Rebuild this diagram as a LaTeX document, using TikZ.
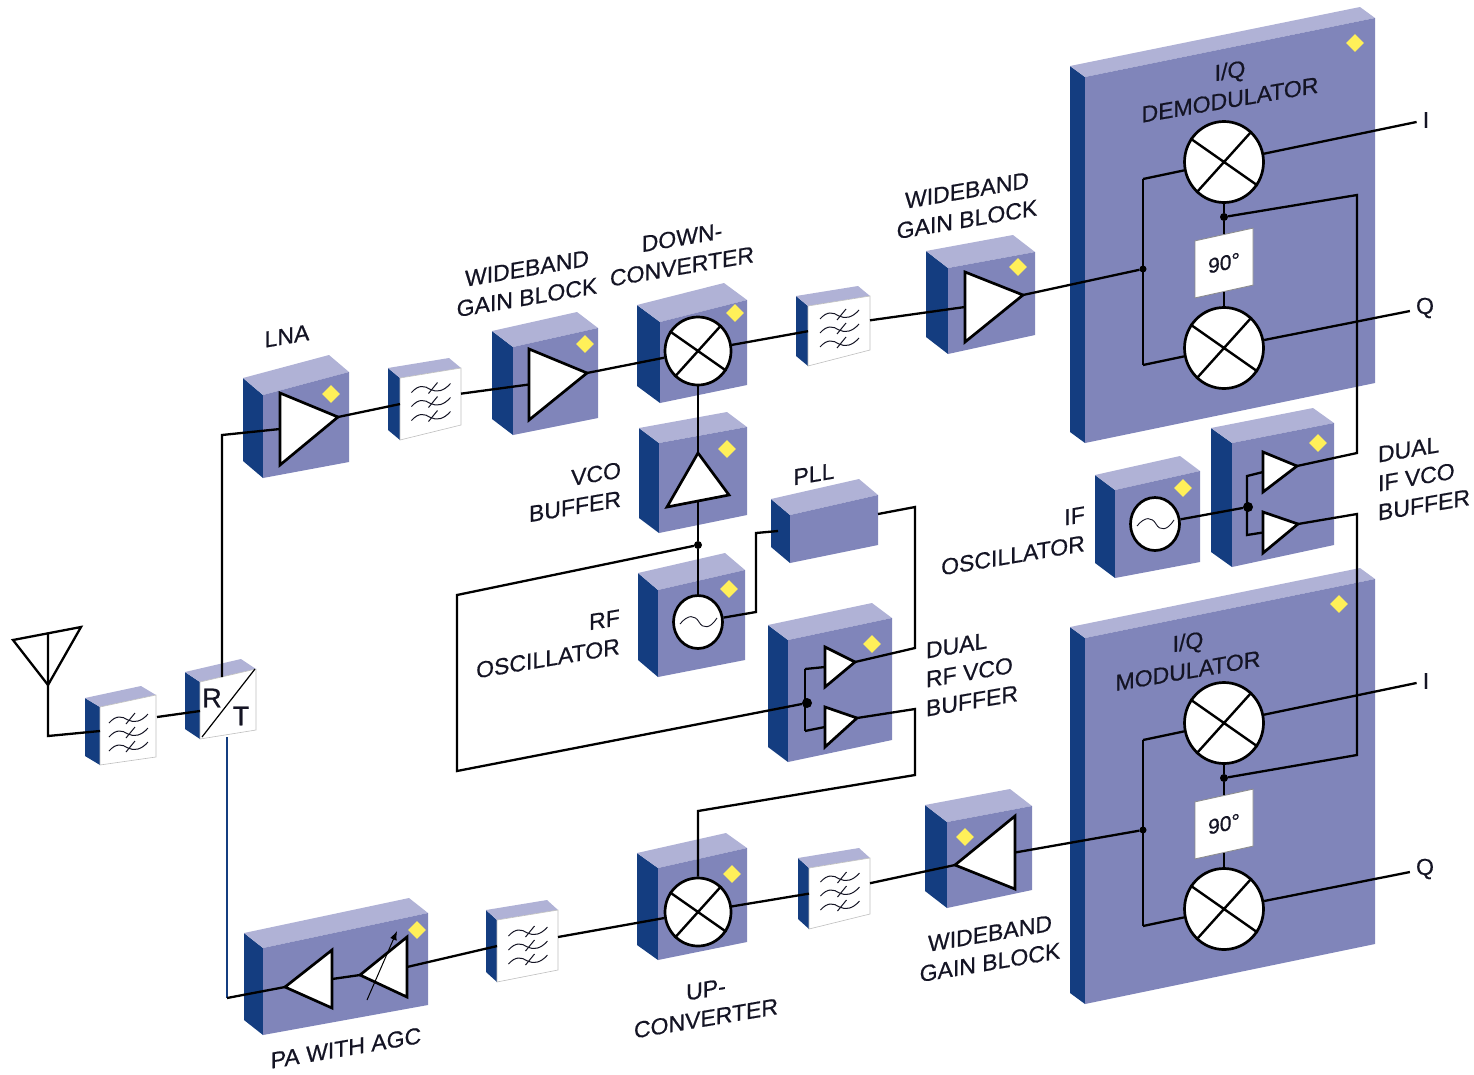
\documentclass[tikz,border=0pt]{standalone}
\usepackage{fontspec}
\setmainfont{Liberation Sans}
\newfontfamily\lblfont[FakeBold=0.6]{Liberation Sans}
\usepackage{tikz}
\usetikzlibrary{shapes, arrows.meta, calc}
\definecolor{faceblue}{rgb}{0.50,0.52,0.73}
\definecolor{topblue}{rgb}{0.69,0.70,0.84}
\definecolor{sideblue}{rgb}{0.08,0.24,0.50}
\definecolor{chipyellow}{rgb}{1.0,0.94,0.35}
\definecolor{inkdark}{rgb}{0.08,0.08,0.14}
\tikzstyle{blockface}=[%
      fill=faceblue
]
\tikzstyle{filterface}=[%
      fill=white, draw=black!25, line width=0.6pt
]
\tikzstyle{wire}=[%
      draw=black, line width=2.3pt, line join=miter
]
\tikzstyle{element}=[%
      draw=black, fill=white, line width=2.7pt, line join=miter
]
\tikzstyle{roundel}=[%
      ellipse, draw=black, fill=white, line width=2.7pt, inner sep=0pt
]
\tikzstyle{jdot}=[%
      circle, fill=black, inner sep=0pt, minimum size=8pt
]
\tikzstyle{chip}=[%
      diamond, fill=chipyellow, inner sep=0pt, minimum width=18pt, minimum height=18pt
]
\tikzstyle{lbl}=[%
      font=\lblfont\fontsize{23}{29}\selectfont, text=inkdark, align=center, inner sep=0pt, yslant=0.17
]
\tikzstyle{port}=[%
      font=\lblfont\fontsize{23}{29}\selectfont, text=inkdark, inner sep=6pt
]
\tikzstyle{phase}=[%
      rectangle, fill=white, draw=black!45, line width=0.8pt, yslant=0.22,
      minimum width=58pt, minimum height=57pt, inner sep=0pt,
      font=\lblfont\fontsize{21}{25}\selectfont, text=inkdark
]
\newcommand{\isobox}[7][blockface]{%
  \fill[sideblue] (#3) -- ++(#7) -- ($(#6)+(#7)$) -- (#6) -- cycle;
  \fill[topblue] (#3) -- ++(#7) -- ($(#4)+(#7)$) -- (#4) -- cycle;
  \path[#1] (#3) -- (#4) -- (#5) -- (#6) -- cycle;
  \coordinate (#2) at ($(#3)!0.5!(#5)$);
  \coordinate (#2in) at ($(#3)!0.42!(#6)$);
  \coordinate (#2out) at ($(#4)!0.45!(#5)$);
}
\newcommand{\waves}[1]{%
  \begin{scope}[shift={(#1)}]
    \foreach \dy in {-13,1,15} {
      \draw[inkdark, line width=1pt] (-19,\dy+4) .. controls (-12,\dy-4) and (-6,\dy-3) .. (0,\dy+1)
        .. controls (6,\dy+4) and (13,\dy+3) .. (20,\dy-5);
      \draw[inkdark, line width=1pt] (-2,\dy+5) -- (7,\dy-6);
    }
  \end{scope}
}
\newcommand{\amptri}[4]{%
  \draw[element] (#2) -- (#3) -- (#4) -- cycle;
  \coordinate (#1in) at ($(#2)!0.5!(#3)$);
  \coordinate (#1out) at (#4);
}
\newcommand{\mixer}[3]{%
  \node[roundel, minimum width=#3pt, minimum height=#3pt+2pt] (#1) at (#2) {};
  \draw[black, line width=2.4pt] (#1.145) -- (#1.325) (#1.48) -- (#1.228);
}
\newcommand{\oscil}[2]{%
  \node[roundel, minimum width=49pt, minimum height=53pt] (#1) at (#2) {};
  \draw[inkdark, line width=0.9pt] ($(#1)+(-18,2)$) .. controls ($(#1)+(-10,-8)$) and ($(#1)+(-3,-7)$) .. ($(#1)+(1,0)$)
    .. controls ($(#1)+(5,7)$) and ($(#1)+(12,7)$) .. ($(#1)+(19,-4)$);
}
\begin{document}
\begin{tikzpicture}[x=1pt,y=-1pt]
  \useasboundingbox (0,0) rectangle (1474,1074);

  \isobox[filterface]{af}{100,707}{156,695}{156,757}{100,765}{-15,-9}
  \isobox[filterface]{rt}{200,682}{256,669}{256,730}{200,739}{-15,-10}
  \isobox{lna}{263,395}{349,372}{349,462}{263,478}{-20,-17}
  \isobox[filterface]{fa}{400,378}{461,368}{461,425}{400,440}{-12,-10}
  \isobox{gba}{513,347}{598,328}{598,418}{513,435}{-21,-16}
  \isobox{dcv}{660,322}{747,300}{747,385}{660,403}{-23,-17}
  \isobox[filterface]{fb}{808,306}{870,296}{870,350}{808,366}{-12,-10}
  \isobox{gbb}{948,268}{1035,252}{1035,335}{948,354}{-22,-17}
  \isobox{dmd}{1085,77}{1375,18}{1375,383}{1085,443}{-15,-11}
  \isobox{vcb}{659,443}{747,427}{747,515}{659,533}{-20,-15}
  \isobox{rfo}{658,590}{745,570}{745,660}{658,677}{-20,-17}
  \isobox{pll}{790,515}{878,495}{878,545}{790,563}{-19,-16}
  \isobox{drf}{788,640}{892,618}{892,740}{788,762}{-20,-15}
  \isobox{ifo}{1115,490}{1200,471}{1200,562}{1115,578}{-20,-15}
  \isobox{dif}{1232,443}{1334,423}{1334,545}{1232,567}{-21,-15}
  \isobox{mod}{1085,638}{1375,579}{1375,944}{1085,1004}{-15,-11}
  \isobox{gbc}{947,822}{1032,806}{1032,890}{947,908}{-22,-17}
  \isobox[filterface]{fc}{809,868}{870,858}{870,914}{809,929}{-11,-10}
  \isobox{ucv}{658,868}{747,848}{747,942}{658,960}{-21,-15}
  \isobox[filterface]{fd}{497,920}{558,910}{558,970}{497,982}{-11,-10}
  \isobox{pag}{263,948}{428,913}{428,1005}{263,1035}{-19,-15}

  \foreach \f in {af,fa,fb,fc,fd} {\waves{\f}}

  \foreach \nm/\px/\py in {lna/331/394, gba/585/344, dcv/735/313, vcb/727/449, rfo/729/589,
      drf/872/644, dif/1318/443, ifo/1183/488, dmd/1355/43, mod/1339/604,
      gbb/1018/267, gbc/965/837, ucv/732/874, pag/417/930}
    \node[chip] (\nm chip) at (\px,\py) {};

  \amptri{lnaamp}{280,393}{280,465}{338,417}
  \amptri{gaa}{529,349}{529,420}{587,373}
  \amptri{gab}{965,272}{965,342}{1023,295}
  \amptri{gac}{1015,816}{1015,889}{955,865}
  \amptri{vca}{667,507}{729,495}{698,453}
  \amptri{pab}{332,950}{332,1008}{285,987}
  \amptri{pac}{407,937}{407,997}{360,975}
  \amptri{dra}{825,647}{825,687}{855,662}
  \amptri{drb}{825,707}{825,747}{857,718}
  \amptri{ifa}{1263,452}{1263,492}{1297,466}
  \amptri{ifb}{1263,512}{1263,553}{1298,524}

  \mixer{dcmix}{698,351}{66}
  \mixer{ucmix}{698,912}{66}
  \mixer{dmu}{1224,162}{79}
  \mixer{dml}{1224,348}{79}
  \mixer{mou}{1224,723}{79}
  \mixer{mol}{1224,909}{79}
  \oscil{rfsine}{698,622}
  \oscil{ifsine}{1155,524}

  \node[phase] (dmshift) at (1224,263) {90°};
  \node[phase] (moshift) at (1224,824) {90°};

  \node[jdot] (rfj) at (698,545) {};
  \node[jdot, minimum size=10pt] (drj) at (807,703) {};
  \node[jdot, minimum size=10pt] (ifj) at (1248,507) {};
  \node[jdot, minimum size=7pt] (dmj) at (1143,269) {};
  \node[jdot, minimum size=7pt] (moj) at (1143,830) {};
  \node[jdot] (dmlo) at (1224,217) {};
  \node[jdot] (molo) at (1224,778) {};

  \coordinate (antl) at (13,640);
  \coordinate (antr) at (81,627);
  \coordinate (antb) at (48,685);
  \coordinate (antm) at (48,634);
  \coordinate (antc) at (48,736);
  \coordinate (afin) at (100,731);
  \coordinate (afout) at (157,717);
  \coordinate (rtin) at (200,711);
  \coordinate (rttop) at (222,677);
  \coordinate (rtbot) at (227,737);
  \coordinate (rxc) at (222,435);
  \coordinate (txc) at (227,998);
  \coordinate (rtd) at (202,737);
  \coordinate (rte) at (255,669);
  \coordinate (pllin) at (778,531);
  \coordinate (pllout) at (878,514);
  \coordinate (ra) at (756,612);
  \coordinate (rb) at (756,533);
  \coordinate (pa) at (915,507);
  \coordinate (pb) at (915,648);
  \coordinate (da) at (915,709);
  \coordinate (db) at (915,775);
  \coordinate (dc) at (698,811);
  \coordinate (la) at (457,595);
  \coordinate (lb) at (457,771);
  \coordinate (dru) at (805,669);
  \coordinate (drl) at (805,731);
  \coordinate (ifu) at (1247,476);
  \coordinate (ifl) at (1247,535);
  \coordinate (qa) at (1357,453);
  \coordinate (qb) at (1357,195);
  \coordinate (qc) at (1357,514);
  \coordinate (qd) at (1357,755);
  \coordinate (dmt) at (1143,179);
  \coordinate (dmb) at (1143,365);
  \coordinate (mot) at (1143,740);
  \coordinate (mob) at (1143,926);
  \coordinate (agca) at (367,1000);
  \coordinate (agcb) at (397,931);

  \draw[wire] (antl) -- (antr) -- (antb) -- cycle;
  \draw[wire] (antm) -- (antc) -- (afin);
  \draw[wire] (afout) -- (rtin);
  \draw[wire] (rttop) -- (rxc) -- (lnaampin);
  \draw[draw=sideblue, line width=1.6pt] (rtbot) -- (txc);
  \draw[wire] (txc) -- (pabout);
  \draw[black, line width=1.2pt] (rtd) -- (rte);
  \draw[wire] (lnaampout) -- (fain);
  \draw[wire] (faout) -- (gaain);
  \draw[wire] (gaaout) -- (dcmix);
  \draw[wire] (dcmix) -- (fbin);
  \draw[wire] (fbout) -- (gabin);
  \draw[wire] (gabout) -- (dmj);
  \draw[wire] (vcaout) -- (dcmix.south);
  \draw[wire] (vcain) -- (rfj);
  \draw[wire] (rfj) -- (rfsine.north);
  \draw[wire] (rfsine) -- (ra) -- (rb) -- (pllin);
  \draw[wire] (pllout) -- (pa) -- (pb) -- (draout);
  \draw[wire] (rfj) -- (la) -- (lb) -- (drj);
  \draw[wire] (dru) -- (drain);
  \draw[wire] (drl) -- (drbin);
  \draw[wire] (dru) -- (drl);
  \draw[wire] (drbout) -- (da) -- (db) -- (dc) -- (ucmix.north);
  \draw[wire] (ifsine) -- (ifj);
  \draw[wire] (ifain) -- (ifu) -- (ifl) -- (ifbin);
  \draw[wire] (ifaout) -- (qa) -- (qb) -- (dmlo);
  \draw[wire] (ifbout) -- (qc) -- (qd) -- (molo);
  \draw[wire] (dmt) -- (dmb);
  \draw[wire] (dmt) -- (dmu);
  \draw[wire] (dmb) -- (dml);
  \draw[wire] (dmu.south) -- (dmlo) -- (dmshift.north);
  \draw[wire] (dmshift.south) -- (dml.north);
  \draw[wire] (mot) -- (mob);
  \draw[wire] (mot) -- (mou);
  \draw[wire] (mob) -- (mol);
  \draw[wire] (mou.south) -- (molo) -- (moshift.north);
  \draw[wire] (moshift.south) -- (mol.north);
  \draw[wire] (moj) -- (gacin);
  \draw[wire] (gacout) -- (fcout);
  \draw[wire] (fcin) -- (ucmix);
  \draw[wire] (ucmix) -- (fdout);
  \draw[wire] (fdin) -- (pacin);
  \draw[wire] (pacout) -- (pabin);
  \draw[black, line width=1pt, -{Latex[length=9pt,width=7pt]}] (agca) -- (agcb);

  \node[port] (dmi) at (1426,120) {I};
  \node[port] (dmq) at (1425,308) {Q};
  \node[port] (moi) at (1426,681) {I};
  \node[port] (moq) at (1425,869) {Q};
  \draw[wire] (dmu) -- (dmi);
  \draw[wire] (dml) -- (dmq);
  \draw[wire] (mou) -- (moi);
  \draw[wire] (mol) -- (moq);

  \node[port, font=\lblfont\fontsize{27}{30}\selectfont, inner sep=0pt] (rlet) at (212,698) {R};
  \node[port, font=\lblfont\fontsize{27}{30}\selectfont, inner sep=0pt] (tlet) at (241,716) {T};

  \node[lbl] (lnalbl) at (287,336) {LNA};
  \node[lbl] (gbalbl) at (527,283) {WIDEBAND\\GAIN BLOCK};
  \node[lbl] (dcvlbl) at (682,252) {DOWN-\\CONVERTER};
  \node[lbl] (gbblbl) at (967,205) {WIDEBAND\\GAIN BLOCK};
  \node[lbl, align=right] (vcblbl) at (575,492) {VCO\\BUFFER};
  \node[lbl] (plllbl) at (814,474) {PLL};
  \node[lbl, align=right] (rfolbl) at (548,644) {RF\\OSCILLATOR};
  \node[lbl, align=right] (ifolbl) at (1013,541) {IF\\OSCILLATOR};
  \node[lbl, align=left] (drflbl) at (972,672) {DUAL\\RF VCO\\BUFFER};
  \node[lbl, align=left] (diflbl) at (1424,476) {DUAL\\IF VCO\\BUFFER};
  \node[lbl] (dmdlbl) at (1230,85) {I/Q\\DEMODULATOR};
  \node[lbl] (modlbl) at (1188,656) {I/Q\\MODULATOR};
  \node[lbl] (gbclbl) at (990,948) {WIDEBAND\\GAIN BLOCK};
  \node[lbl] (ucvlbl) at (706,1004) {UP-\\CONVERTER};
  \node[lbl] (paglbl) at (346,1048) {PA WITH AGC};
\end{tikzpicture}
\end{document}
